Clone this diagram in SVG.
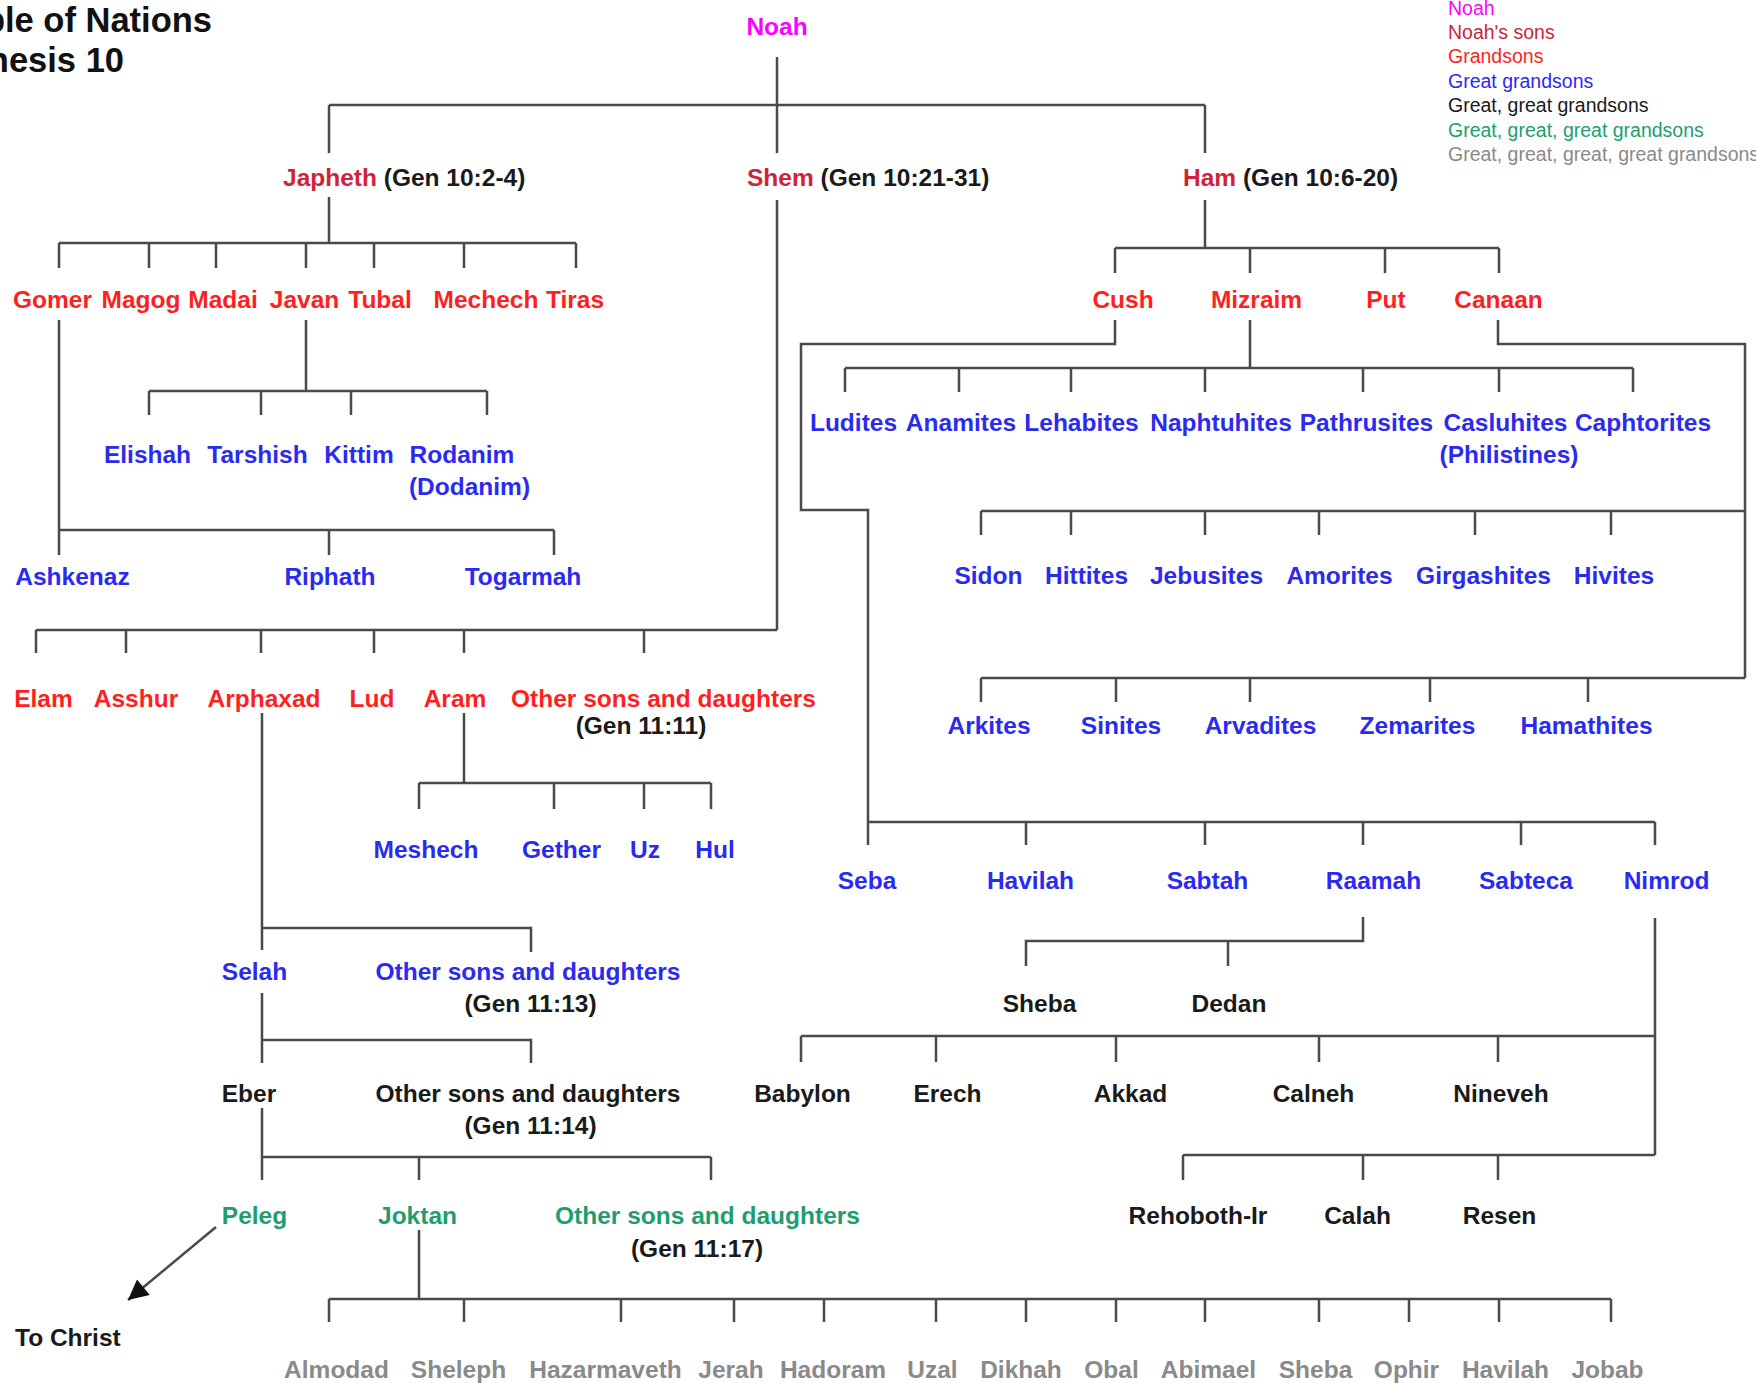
<svg xmlns="http://www.w3.org/2000/svg" width="1756" height="1383" viewBox="0 0 1756 1383">
<style>
text{font-family:"Liberation Sans",Arial,Helvetica,sans-serif;font-weight:bold;font-size:24.5px;text-anchor:middle}
.st{text-anchor:start}
.en{text-anchor:end}
.title{font-size:34.5px;fill:#111;text-anchor:end}
.leg{font-weight:normal;font-size:19.5px;text-anchor:start}
.noah{fill:#ff00ff}
.son{fill:#cf2438}
.gs{fill:#ff1f1f}
.ggs{fill:#2b2bef}
.g2{fill:#1a1a1a}
.g3{fill:#1e9e6e}
.g4{fill:#8a8a8a}
.ref{fill:#1a1a1a}
.c path{fill:none;stroke:#4a4a4a;stroke-width:2.5}
</style>
<defs>
<marker id="ah" viewBox="0 0 10 10" refX="10" refY="5" markerWidth="26" markerHeight="20" markerUnits="userSpaceOnUse" orient="auto">
<path d="M0,0 L10,5 L0,10 z" fill="#111"/>
</marker>
</defs>
<rect width="1756" height="1383" fill="#fff"/>
<g id="title">
<text class="title" x="212" y="32">Table of Nations</text>
<text class="title" x="124" y="72">Genesis 10</text>
</g>
<g id="legend">
<text class="leg noah" x="1448" y="15">Noah</text>
<text class="leg son" x="1448" y="39">Noah's sons</text>
<text class="leg gs" x="1448" y="63">Grandsons</text>
<text class="leg ggs" x="1448" y="88">Great grandsons</text>
<text class="leg g2" x="1448" y="112">Great, great grandsons</text>
<text class="leg g3" x="1448" y="137">Great, great, great grandsons</text>
<text class="leg g4" x="1448" y="161">Great, great, great, great grandsons</text>
</g>
<g class="c" id="connectors">
<path d="M777,57V153M329,105H1205M329,105V153M1205,105V153"/>
<path d="M329,197V243M59,243H576M59,243V268M149,243V268M216,243V268M306,243V268M374,243V268M464,243V268M576,243V268"/>
<path d="M59,320V555M59,530H554M329,530V555M554,530V555"/>
<path d="M306,320V391M149,391H487M149,391V415M261,391V415M351,391V415M487,391V415"/>
<path d="M777,200V630M36,630H777M36,630V653M126,630V653M261,630V653M374,630V653M464,630V653M644,630V653"/>
<path d="M262,713V950M262,928H531V952"/>
<path d="M464,713V783M419,783H711M419,783V809M554,783V809M644,783V809M711,783V809"/>
<path d="M262,993V1063M262,1040H531V1063"/>
<path d="M262,1108V1180M262,1157H711M419,1157V1180M711,1157V1180"/>
<path d="M419,1230V1299M329,1299H1611M329,1299V1322M464,1299V1322M621,1299V1322M734,1299V1322M824,1299V1322M936,1299V1322M1026,1299V1322M1116,1299V1322M1205,1299V1322M1319,1299V1322M1409,1299V1322M1499,1299V1322M1611,1299V1322"/>
<path d="M216,1227L128,1300" marker-end="url(#ah)"/>
<path d="M1205,200V248M1115,248H1499M1115,248V273M1250,248V273M1385,248V273M1499,248V273"/>
<path d="M1115,320V344H801V510H868V845M868,822H1655M1026,822V845M1205,822V845M1363,822V845M1521,822V845M1655,822V845"/>
<path d="M1250,320V368M845,368H1633M845,368V392M959,368V392M1071,368V392M1205,368V392M1363,368V392M1499,368V392M1633,368V392"/>
<path d="M1498,320V344H1745V678M981,511H1745M981,511V535M1071,511V535M1205,511V535M1319,511V535M1475,511V535M1611,511V535M981,678H1745M981,678V702M1116,678V702M1250,678V702M1430,678V702M1588,678V702"/>
<path d="M1363,917V941H1026V966M1228,941V966"/>
<path d="M1655,918V1155M801,1036H1655M801,1036V1062M936,1036V1062M1116,1036V1062M1319,1036V1062M1498,1036V1062M1183,1155H1655M1183,1155V1180M1363,1155V1180M1498,1155V1180"/>
</g>
<g id="n-noah"><text class="noah" x="777" y="35">Noah</text></g>
<g id="n-japheth"><text class="st" x="283" y="186"><tspan class="son">Japheth</tspan><tspan class="ref"> (Gen 10:2-4)</tspan></text></g>
<g id="n-shem"><text class="st" x="747" y="186"><tspan class="son">Shem</tspan><tspan class="ref"> (Gen 10:21-31)</tspan></text></g>
<g id="n-ham"><text class="st" x="1183" y="186"><tspan class="son">Ham</tspan><tspan class="ref"> (Gen 10:6-20)</tspan></text></g>
<g id="n-gomer"><text class="gs" x="52.5" y="308">Gomer</text></g>
<g id="n-magog"><text class="gs" x="141" y="308">Magog</text></g>
<g id="n-madai"><text class="gs" x="223" y="308">Madai</text></g>
<g id="n-javan"><text class="gs" x="304.5" y="308">Javan</text></g>
<g id="n-tubal"><text class="gs" x="380" y="308">Tubal</text></g>
<g id="n-mechech"><text class="gs" x="486" y="308">Mechech</text></g>
<g id="n-tiras"><text class="gs" x="575" y="308">Tiras</text></g>
<g id="n-cush"><text class="gs" x="1123" y="308">Cush</text></g>
<g id="n-mizraim"><text class="gs" x="1256.5" y="308">Mizraim</text></g>
<g id="n-put"><text class="gs" x="1386" y="308">Put</text></g>
<g id="n-canaan"><text class="gs" x="1498.5" y="308">Canaan</text></g>
<g id="n-elishah"><text class="ggs" x="147.5" y="463">Elishah</text></g>
<g id="n-tarshish"><text class="ggs" x="257.5" y="463">Tarshish</text></g>
<g id="n-kittim"><text class="ggs" x="359" y="463">Kittim</text></g>
<g id="n-rodanim"><text class="ggs" x="462" y="463">Rodanim</text><text class="ggs" x="469.5" y="495">(Dodanim)</text></g>
<g id="n-ashkenaz"><text class="ggs" x="72.5" y="585">Ashkenaz</text></g>
<g id="n-riphath"><text class="ggs" x="330" y="585">Riphath</text></g>
<g id="n-togarmah"><text class="ggs" x="523" y="585">Togarmah</text></g>
<g id="n-ludites"><text class="ggs" x="853.5" y="431">Ludites</text></g>
<g id="n-anamites"><text class="ggs" x="961" y="431">Anamites</text></g>
<g id="n-lehabites"><text class="ggs" x="1081.5" y="431">Lehabites</text></g>
<g id="n-naphtuhites"><text class="ggs" x="1221" y="431">Naphtuhites</text></g>
<g id="n-pathrusites"><text class="ggs" x="1366.5" y="431">Pathrusites</text></g>
<g id="n-casluhites"><text class="ggs" x="1505.5" y="431">Casluhites</text><text class="ggs" x="1509" y="463">(Philistines)</text></g>
<g id="n-caphtorites"><text class="ggs" x="1643" y="431">Caphtorites</text></g>
<g id="n-sidon"><text class="ggs" x="988.5" y="584">Sidon</text></g>
<g id="n-hittites"><text class="ggs" x="1086.5" y="584">Hittites</text></g>
<g id="n-jebusites"><text class="ggs" x="1206.5" y="584">Jebusites</text></g>
<g id="n-amorites"><text class="ggs" x="1339.5" y="584">Amorites</text></g>
<g id="n-girgashites"><text class="ggs" x="1483.5" y="584">Girgashites</text></g>
<g id="n-hivites"><text class="ggs" x="1614" y="584">Hivites</text></g>
<g id="n-elam"><text class="gs" x="43.5" y="707">Elam</text></g>
<g id="n-asshur"><text class="gs" x="136" y="707">Asshur</text></g>
<g id="n-arphaxad"><text class="gs" x="264" y="707">Arphaxad</text></g>
<g id="n-lud"><text class="gs" x="372" y="707">Lud</text></g>
<g id="n-aram"><text class="gs" x="455" y="707">Aram</text></g>
<g id="n-other-shem"><text class="gs" x="663.5" y="707">Other sons and daughters</text><text class="ref" x="641" y="734">(Gen 11:11)</text></g>
<g id="n-arkites"><text class="ggs" x="989" y="734">Arkites</text></g>
<g id="n-sinites"><text class="ggs" x="1121" y="734">Sinites</text></g>
<g id="n-arvadites"><text class="ggs" x="1260.5" y="734">Arvadites</text></g>
<g id="n-zemarites"><text class="ggs" x="1417.5" y="734">Zemarites</text></g>
<g id="n-hamathites"><text class="ggs" x="1586.5" y="734">Hamathites</text></g>
<g id="n-meshech"><text class="ggs" x="426" y="858">Meshech</text></g>
<g id="n-gether"><text class="ggs" x="561.5" y="858">Gether</text></g>
<g id="n-uz"><text class="ggs" x="645" y="858">Uz</text></g>
<g id="n-hul"><text class="ggs" x="715" y="858">Hul</text></g>
<g id="n-seba"><text class="ggs" x="867" y="889">Seba</text></g>
<g id="n-havilah"><text class="ggs" x="1030.5" y="889">Havilah</text></g>
<g id="n-sabtah"><text class="ggs" x="1207.5" y="889">Sabtah</text></g>
<g id="n-raamah"><text class="ggs" x="1373.5" y="889">Raamah</text></g>
<g id="n-sabteca"><text class="ggs" x="1526" y="889">Sabteca</text></g>
<g id="n-nimrod"><text class="ggs" x="1666.5" y="889">Nimrod</text></g>
<g id="n-selah"><text class="ggs" x="254.5" y="980">Selah</text></g>
<g id="n-other-arphaxad"><text class="ggs" x="528" y="980">Other sons and daughters</text><text class="ref" x="530.5" y="1012">(Gen 11:13)</text></g>
<g id="n-sheba-r"><text class="g2" x="1039.5" y="1012">Sheba</text></g>
<g id="n-dedan"><text class="g2" x="1229" y="1012">Dedan</text></g>
<g id="n-eber"><text class="g2" x="249" y="1102">Eber</text></g>
<g id="n-other-selah"><text class="g2" x="528" y="1102">Other sons and daughters</text><text class="ref" x="530.5" y="1134">(Gen 11:14)</text></g>
<g id="n-babylon"><text class="g2" x="802.5" y="1102">Babylon</text></g>
<g id="n-erech"><text class="g2" x="947.5" y="1102">Erech</text></g>
<g id="n-akkad"><text class="g2" x="1130.5" y="1102">Akkad</text></g>
<g id="n-calneh"><text class="g2" x="1313.5" y="1102">Calneh</text></g>
<g id="n-nineveh"><text class="g2" x="1501" y="1102">Nineveh</text></g>
<g id="n-peleg"><text class="g3" x="254.5" y="1224">Peleg</text></g>
<g id="n-joktan"><text class="g3" x="417.5" y="1224">Joktan</text></g>
<g id="n-other-eber"><text class="g3" x="707.5" y="1224">Other sons and daughters</text><text class="ref" x="697" y="1257">(Gen 11:17)</text></g>
<g id="n-rehoboth"><text class="g2" x="1198" y="1224">Rehoboth-Ir</text></g>
<g id="n-calah"><text class="g2" x="1357.5" y="1224">Calah</text></g>
<g id="n-resen"><text class="g2" x="1499.5" y="1224">Resen</text></g>
<g id="n-tochrist"><text class="st g2" x="15" y="1346">To Christ</text></g>
<g id="n-almodad"><text class="g4" x="336.5" y="1378">Almodad</text></g>
<g id="n-sheleph"><text class="g4" x="458.5" y="1378">Sheleph</text></g>
<g id="n-hazarmaveth"><text class="g4" x="605.5" y="1378">Hazarmaveth</text></g>
<g id="n-jerah"><text class="g4" x="731" y="1378">Jerah</text></g>
<g id="n-hadoram"><text class="g4" x="833" y="1378">Hadoram</text></g>
<g id="n-uzal"><text class="g4" x="932.5" y="1378">Uzal</text></g>
<g id="n-dikhah"><text class="g4" x="1021" y="1378">Dikhah</text></g>
<g id="n-obal"><text class="g4" x="1111.5" y="1378">Obal</text></g>
<g id="n-abimael"><text class="g4" x="1208.5" y="1378">Abimael</text></g>
<g id="n-sheba-j"><text class="g4" x="1315.5" y="1378">Sheba</text></g>
<g id="n-ophir"><text class="g4" x="1406.5" y="1378">Ophir</text></g>
<g id="n-havilah-j"><text class="g4" x="1505.5" y="1378">Havilah</text></g>
<g id="n-jobab"><text class="g4" x="1607.5" y="1378">Jobab</text></g>
</svg>
